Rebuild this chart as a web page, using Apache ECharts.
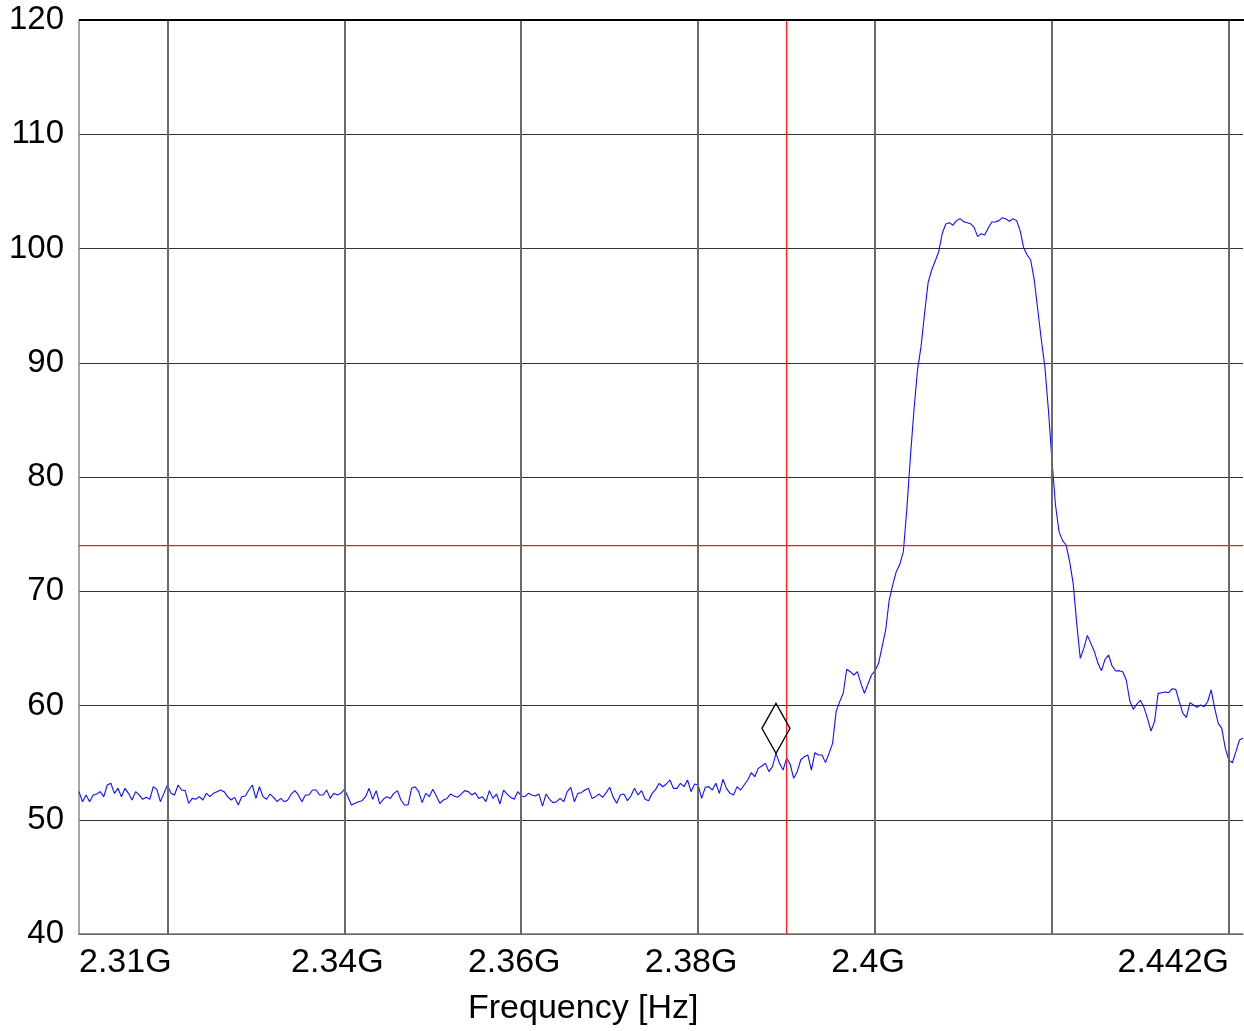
<!DOCTYPE html>
<html><head><meta charset="utf-8">
<script src="https://cdn.jsdelivr.net/npm/echarts@6/dist/echarts.min.js"></script>
<style>html,body{margin:0;padding:0;background:#fff}#c{width:1244px;height:1031px}</style>
</head><body><div id="c"></div>
<script>
// sweep grid (uniform spectrum-analyzer sweep points)
const freqStart = 2.31, freqStep = 0.0004;
const xMin = 2.31, xMax = 2.4416;
const yMin = 40, yMax = 120, yStep = 10;
const gridFreqs = [2.32, 2.34, 2.36, 2.38, 2.40, 2.42, 2.44];
const tickValues = [2.31, 2.34, 2.36, 2.38, 2.40, 2.4416];
const tickLabels = ['2.31G', '2.34G', '2.36G', '2.38G', '2.4G', '2.442G'];
const limitFreq = 2.39, limitLevel = 74;
const markerIndex = 197;
const axisName = 'Frequency [Hz]';

// trace levels
const segA = [52.46,51.58,52.17,51.58,52.17,52.25,52.46,52.02,53.04,53.19,
52.31,52.75,52.02,52.75,52.31,51.73,52.46,52.17,51.79,51.96,
51.79,52.89,52.66,51.58,52.31,53.04,52.31,52.17,53.04,52.60,
52.55,51.44,51.87,51.79,52.02,51.73,52.31,52.02,52.31,52.46,
52.60,52.46,52.02,51.73,51.96,51.29,52.02,52.08,52.60,53.04,
51.87,52.89,52.02,51.79,52.25,51.96,51.58];
const segB = [51.87,51.58,51.73,52.25,52.55,52.17,51.58,52.17,52.17,52.60,
52.60,52.17,52.17,52.60,51.87,52.31,52.17,52.31,52.66,52.02,
51.29,51.44,51.58,51.67,52.02,52.75,51.79,52.55,51.38,51.79,
52.02,51.87,52.31,52.55,51.73,51.29,51.29,52.75,52.89,52.46,
51.50,52.31,52.02,52.66,52.08,51.44,51.73,51.87,52.25,52.08,
51.96,52.25,52.55,52.46,52.17,52.37,51.87];
const segC = [52.02,51.58,52.55,51.87,52.25,51.38,52.60,52.25,51.96,51.79,
52.46,52.08,52.02,52.31,52.17,52.08,52.25,51.20,52.25,51.79,
51.50,51.58,51.87,51.58,52.46,52.84,51.58,52.31,52.37,52.60,
52.75,51.87,52.02,52.25,51.96,52.37,52.84,51.96,51.44,52.17,
52.25,51.67,52.08,52.75,52.17,52.55,51.79,51.67,52.31,52.66,
53.19,52.89,53.13,53.48,52.75,52.75];
const segD = [53.19,52.90,53.48,52.46,53.13,53.04,51.87,52.84,52.90,52.60,
53.19,52.31,53.54,52.75,52.31,52.17,52.90,52.60,53.04,53.48,
54.12,53.77,54.50,54.70,54.94,54.21,54.65,55.81,54.94,54.35,
55.37,54.88,53.63,54.21,55.23,55.52,55.67,54.35,55.87,55.67,
55.67,55.00,55.81,56.69,59.46,60.34,61.07,63.17,62.96,62.67,
62.96,61.94,61.07,61.88,62.67,63.05,63.69];
const segE = [65.15,66.61,69.23,70.55,71.71,72.36,73.46,77.26,81.78,85.86,
89.37,91.41,94.33,97.01,98.12,98.91,99.72,101.33,102.14,102.26,
102.03,102.44,102.61,102.35,102.26,102.17,101.85,101.04,101.30,101.18,
101.79,102.32,102.32,102.44,102.70,102.58,102.38,102.61,102.44,101.56,
100.07,99.43,98.99,97.24,94.62,91.99,89.66,85.86,81.49,77.55,
75.22];
const segF = [74.43,74.05,72.59,70.69,67.19,64.13,65.00,66.14,65.44,64.71,
63.69,63.05,64.04,64.42,63.46,63.02,63.05,62.96,62.23,60.42,
59.66,60.13,60.45,59.84,58.88,57.77,58.59,61.06,61.12,61.18,
61.12,61.47,61.41,60.33,59.31,58.96,60.25,60.04,59.84,60.04,
59.90,60.33,61.36,59.75,58.44,58.00,56.25,55.22,54.99,55.96,
56.98,57.13];

const levels = [].concat(segA, segB, segC, segD, segE, segF);
const trace = levels.map((v, i) => [+(freqStart + i * freqStep).toFixed(4), v]);

const FONT = "'Liberation Sans', Arial, Helvetica, sans-serif";
const chart = echarts.init(document.getElementById('c'), null, {renderer: 'canvas'});

const gridLines = gridFreqs.map(f => ({xAxis: f}));
const limitH = [[xMin, limitLevel], [xMax, limitLevel]];
const limitV = [[limitFreq, yMin], [limitFreq, yMax]];
const redLine = data => ({
  type: 'line', data: data, z: 4, silent: true, showSymbol: false, symbol: 'none',
  lineStyle: {color: '#ff1a1a', width: 1.2}, emphasis: {disabled: true}
});

chart.setOption({
  animation: false,
  backgroundColor: '#fff',
  grid: {left: 79, right: 1, top: 20, bottom: 97, containLabel: false},
  xAxis: {
    type: 'value', min: xMin, max: xMax,
    axisLine: {show: true, onZero: false, lineStyle: {color: '#777', width: 1.5}},
    axisTick: {show: false},
    splitLine: {show: false},
    axisLabel: {
      customValues: tickValues,
      showMinLabel: true, showMaxLabel: true,
      alignMinLabel: 'left', alignMaxLabel: 'right',
      hideOverlap: false,
      margin: 12,
      padding: [0, 14, 0, 0],
      color: '#000', fontSize: 34, fontFamily: FONT,
      formatter: v => {
        const i = tickValues.findIndex(t => Math.abs(t - v) < 1e-6);
        return i >= 0 ? tickLabels[i] : '';
      }
    }
  },
  yAxis: {
    type: 'value', min: yMin, max: yMax, interval: yStep,
    axisLine: {show: true, lineStyle: {color: '#888', width: 1.5}},
    axisTick: {show: false},
    splitLine: {show: true, lineStyle: {color: '#333', width: 1}},
    axisLabel: {margin: 15, padding: [3, 0, 0, 0], color: '#000', fontSize: 33, fontFamily: FONT}
  },
  graphic: [
    {
      type: 'line', silent: true, z: 100,
      shape: {x1: 79, y1: 20, x2: 1244, y2: 20},
      style: {stroke: '#000', lineWidth: 2}
    },
    {
      type: 'text', left: 468, top: 992, silent: true,
      style: {text: axisName, fill: '#000', font: '34px ' + FONT}
    }
  ],
  series: [
    {
      type: 'line', data: [], z: 1, silent: true,
      markLine: {silent: true, symbol: ['none', 'none'], label: {show: false}, animation: false,
        lineStyle: {color: '#6a6a6a', width: 2, type: 'solid'},
        data: gridLines}
    },
    {
      type: 'line', data: trace, z: 3, showSymbol: false, symbol: 'none', silent: true,
      lineStyle: {color: '#0f0fff', width: 1.1},
      emphasis: {disabled: true},
      markPoint: {
        silent: true, animation: false,
        symbol: 'diamond', symbolSize: [28, 50], symbolOffset: [0, -25],
        itemStyle: {color: 'rgba(0,0,0,0)', borderColor: '#000', borderWidth: 1.5},
        label: {show: false},
        data: [{coord: trace[markerIndex]}]
      }
    },
    redLine(limitH),
    redLine(limitV)
  ]
});
</script>
</body></html>
